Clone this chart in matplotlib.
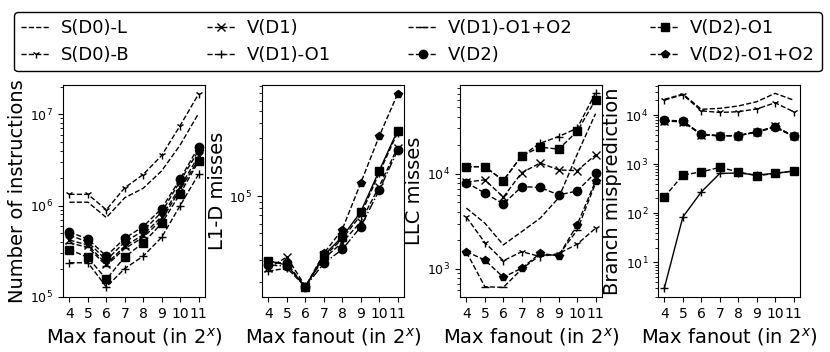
import matplotlib
matplotlib.use("Agg")
import matplotlib.pyplot as plt
from matplotlib.lines import Line2D

fanout = [4, 5, 6, 7, 8, 9, 10, 11]

series = ["S(D0)-L", "S(D0)-B", "V(D1)", "V(D1)-O1",
          "V(D1)-O1+O2", "V(D2)", "V(D2)-O1", "V(D2)-O1+O2"]
markers = {"S(D0)-L": None, "S(D0)-B": "1", "V(D1)": "x", "V(D1)-O1": "+",
           "V(D1)-O1+O2": "_", "V(D2)": "o", "V(D2)-O1": "s", "V(D2)-O1+O2": "p"}

# Panel 1: number of instructions
instructions = {
    "S(D0)-L":     [1.09e6, 1.09e6, 7.4e5, 1.22e6, 1.55e6, 2.4e6, 4.6e6, 1.02e7],
    "S(D0)-B":     [1.33e6, 1.33e6, 9.0e5, 1.57e6, 2.19e6, 3.54e6, 7.5e6, 1.66e7],
    "V(D1)":       [4.2e5, 3.7e5, 2.3e5, 3.6e5, 4.8e5, 7.6e5, 1.6e6, 3.5e6],
    "V(D1)-O1":    [2.37e5, 2.37e5, 1.29e5, 2.05e5, 2.8e5, 4.5e5, 1.0e6, 2.2e6],
    "V(D1)-O1+O2": [3.9e5, 3.5e5, 2.2e5, 3.4e5, 4.5e5, 7.0e5, 1.5e6, 3.2e6],
    "V(D2)":       [5.15e5, 4.3e5, 2.8e5, 4.4e5, 5.9e5, 9.3e5, 1.95e6, 4.4e6],
    "V(D2)-O1":    [3.31e5, 2.71e5, 1.56e5, 2.75e5, 3.91e5, 6.4e5, 1.35e6, 3.06e6],
    "V(D2)-O1+O2": [4.74e5, 4.0e5, 2.53e5, 4.0e5, 5.3e5, 8.5e5, 1.85e6, 4.0e6],
}

# Panel 2: L1-D misses
l1d_misses = {
    "V(D1)":       [2.6e4, 3.2e4, 1.85e4, 3.1e4, 4.2e4, 6.2e4, 1.2e5, 2.5e5],
    "V(D1)-O1":    [2.45e4, 2.6e4, 1.83e4, 3.2e4, 4.5e4, 7.0e4, 1.55e5, 3.3e5],
    "V(D2)":       [2.75e4, 2.7e4, 1.83e4, 2.84e4, 3.69e4, 5.62e4, 1.12e5, 2.37e5],
    "V(D2)-O1":    [2.98e4, 2.75e4, 1.83e4, 3.31e4, 4.67e4, 7.45e4, 1.61e5, 3.44e5],
    "V(D2)-O1+O2": [2.93e4, 2.84e4, 1.83e4, 3.42e4, 5.36e4, 1.28e5, 3.08e5, 6.84e5],
}

# Panel 3: LLC misses
llc_misses = {
    "S(D0)-L":     [4.36e3, 3.03e3, 1.79e3, 2.47e3, 3.42e3, 5.6e3, 1.6e4, 4.3e4],
    "S(D0)-B":     [3.5e3, 1.89e3, 1.22e3, 1.52e3, 1.35e3, 1.45e3, 1.82e3, 2.68e3],
    "V(D1)":       [8.2e3, 8.65e3, 5.69e3, 1.03e4, 1.3e4, 1.1e4, 1.08e4, 1.58e4],
    "V(D1)-O1":    [1.19e4, 1.19e4, 8.5e3, 1.55e4, 2.1e4, 2.47e4, 3.02e4, 7.1e4],
    "V(D1)-O1+O2": [1.5e3, 650, 640, 1.0e3, 1.4e3, 1.4e3, 2.55e3, 8.0e3],
    "V(D2)":       [8.1e3, 6.27e3, 4.83e3, 7.35e3, 7.2e3, 6.0e3, 6.6e3, 1.03e4],
    "V(D2)-O1":    [1.19e4, 1.19e4, 8.5e3, 1.55e4, 1.91e4, 1.82e4, 2.79e4, 6.0e4],
    "V(D2)-O1+O2": [1.52e3, 1.24e3, 818, 1.02e3, 1.46e3, 1.37e3, 2.9e3, 8.4e3],
}

# Panel 4: branch misprediction
branch_mispred = {
    "S(D0)-L":     [2.09e4, 2.68e4, 1.31e4, 1.37e4, 1.53e4, 1.87e4, 2.77e4, 2.02e4],
    "S(D0)-B":     [2.02e4, 2.6e4, 1.22e4, 1.13e4, 1.17e4, 1.33e4, 1.78e4, 1.17e4],
    "V(D1)":       [7.5e3, 7.3e3, 4.0e3, 3.8e3, 3.8e3, 4.5e3, 5.9e3, 3.7e3],
    "V(D1)-O1":    [3.05, 84, 272, 646, 660, 600, 650, 720],
    "V(D2)":       [7.9e3, 7.55e3, 4.1e3, 3.79e3, 3.79e3, 4.57e3, 5.78e3, 3.79e3],
    "V(D2)-O1":    [215, 597, 697, 857, 697, 578, 646, 731],
    "V(D2)-O1+O2": [7.6e3, 7.4e3, 4.0e3, 3.75e3, 3.85e3, 4.5e3, 5.6e3, 3.7e3],
}

panels = [instructions, l1d_misses, llc_misses, branch_mispred]
ylabels = ["Number of instructions", "L1-D misses", "LLC misses",
           "Branch misprediction"]
ylims = [(1.0e5, 2.09e7), (1.51e4, 8.1e5), (507, 8.6e4), (1.96, 4.1e4)]
style_override = {(1, "V(D2)-O1"): "-", (1, "V(D2)"): "-.",
                  (3, "V(D1)-O1"): "-"}

W, H = 830, 352
fig = plt.figure(figsize=(W / 100, H / 100), dpi=100)
lefts = [63, 262, 460, 658]
for i, data in enumerate(panels):
    ax = fig.add_axes([lefts[i] / W, 55 / H, 142 / W, 212 / H])
    for name in series:
        if name not in data:
            continue
        ls = style_override.get((i, name), "--")
        ax.plot(fanout, data[name], color="black", linestyle=ls, linewidth=1,
                marker=markers[name], markersize=6)
    ax.set_yscale("log")
    ax.set_ylim(*ylims[i])
    ax.set_xlim(3.65, 11.35)
    ax.set_xticks(fanout)
    ax.tick_params(axis="x", labelsize=10)
    ax.tick_params(axis="y", labelsize=9)
    ax.set_xlabel("Max fanout (in $2^x$)", fontsize=14)
    ax.set_ylabel(ylabels[i], fontsize=14, labelpad=2)

handles = [Line2D([], [], color="black", linestyle="--", linewidth=1,
                  marker=markers[n], markersize=6) for n in series]
fig.legend(handles, series, loc="upper left", ncol=4, mode="expand",
           bbox_to_anchor=(14 / W, 1 - 12 / H, 808 / W, 0), borderaxespad=0,
           fontsize=13, edgecolor="black", framealpha=1,
           handlelength=1.6, handletextpad=0.6)

fig.savefig("out.png", dpi=100)
